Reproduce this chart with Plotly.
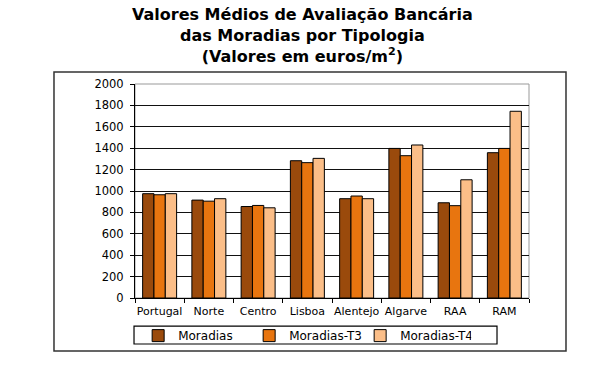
import plotly.graph_objects as go

categories = ["Portugal", "Norte", "Centro", "Lisboa", "Alentejo", "Algarve", "RAA", "RAM"]
moradias = [975, 915, 855, 1283, 928, 1398, 890, 1358]
moradias_t3 = [965, 905, 865, 1265, 953, 1330, 863, 1398]
moradias_t4 = [975, 928, 843, 1305, 928, 1430, 1105, 1745]
series_names = ["Moradias", "Moradias-T3", "Moradias-T4"]
colors = ["#9A4A0C", "#E8750F", "#FBBE88"]
y_ticks = [0, 200, 400, 600, 800, 1000, 1200, 1400, 1600, 1800, 2000]

FONT = "DejaVu Sans"

fig = go.Figure()
for name, vals, col in zip(series_names, [moradias, moradias_t3, moradias_t4], colors):
    fig.add_trace(go.Bar(
        x=categories, y=vals, name=name,
        marker=dict(color=col, line=dict(color="#000000", width=1)),
    ))

fig.update_layout(
    width=610, height=367,
    margin=dict(l=135, r=81, t=84, b=69, autoexpand=False),
    paper_bgcolor="white", plot_bgcolor="white",
    barmode="group", bargap=0.31, bargroupgap=0,
    font=dict(family=FONT, size=11, color="#000000"),
    showlegend=True,
    legend=dict(
        orientation="h", x=0.008, xanchor="left", y=-0.108, yanchor="top",
        bgcolor="rgba(0,0,0,0)", borderwidth=0,
        font=dict(family=FONT, size=12, color="#000000"),
        itemwidth=30, entrywidth=66, entrywidthmode="pixels",
        traceorder="normal",
    ),
    xaxis=dict(
        type="category", showline=True, linecolor="#000000", linewidth=1,
        ticks="outside", tickson="boundaries", ticklen=4, tickcolor="#000000",
        showgrid=False, tickfont=dict(family=FONT, size=11), tickangle=0,
        automargin=False, ticklabelstandoff=3,
    ),
    yaxis=dict(
        range=[0, 2000], tickvals=y_ticks, showline=True, linecolor="#000000",
        linewidth=1, ticks="outside", ticklen=4, tickcolor="#000000",
        showgrid=True, gridcolor="#111111", gridwidth=1, zeroline=False,
        tickfont=dict(family=FONT, size=11.5), automargin=False,
        ticklabelstandoff=4,
    ),
    annotations=[dict(
        xref="paper", yref="paper", x=0.424, y=1.225,
        xanchor="center", yanchor="middle", showarrow=False,
        text="<b>Valores Médios de Avaliação Bancária<br>das Moradias por Tipologia<br>(Valores em euros/m<sup>2</sup>)</b>",
        font=dict(family=FONT, size=16, color="#000000"), align="center",
    )],
    shapes=[
        dict(type="rect", xref="paper", yref="paper", x0=0, x1=1, y0=0, y1=1,
             line=dict(color="#999999", width=1), layer="below"),
        dict(type="rect", xref="paper", yref="paper", x0=-0.2056, x1=1.0939,
             y0=-0.2477, y1=1.056, line=dict(color="#333333", width=1.5)),
        dict(type="rect", xref="paper", yref="paper", x0=-0.0025, x1=0.9188,
             y0=-0.215, y1=-0.131, line=dict(color="#000000", width=1.2)),
    ],
)

fig.write_html(
    "out.html",
    config={"displayModeBar": False},
    post_script="document.body.style.margin='0';document.body.style.overflow='hidden';",
)
